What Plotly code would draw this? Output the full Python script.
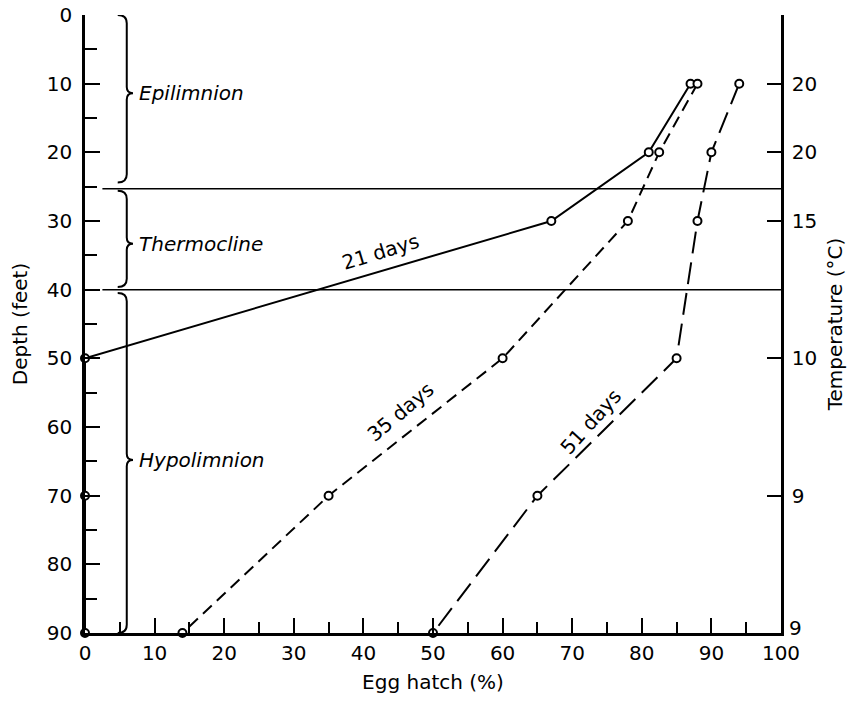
import plotly.graph_objects as go

# ---- data ----
depth_ft = [10, 20, 30, 50, 70, 90]
hatch_21_days = [87, 81, 67, 0, 0, 0]
hatch_35_days = [88, 82.5, 78, 60, 35, 14]
hatch_51_days = [94, 90, 88, 85, 65, 50]

temp_tick_depths = [0, 10, 20, 30, 50, 70, 90]
temp_tick_labels = ["", "20", "20", "15", "10", "9", "9"]

layer_names = ["Epilimnion", "Thermocline", "Hypolimnion"]
layer_tops = [0, 25.6, 40.5]
layer_bottoms = [24.4, 39.6, 90]
layer_tips = [11.4, 33.3, 64.8]

boundary_depths = [25.3, 40.0]

curve_labels = ["21 days", "35 days", "51 days"]
curve_label_x = [42.4, 45.3, 72.6]
curve_label_y = [34.5, 57.8, 59.2]
curve_label_angle = [-17, -40, -48]

FONT = "'DejaVu Sans', sans-serif"

fig = go.Figure()

series = [
    (hatch_21_days, "solid"),
    (hatch_35_days, "12px,7px"),
    (hatch_51_days, "22px,9px"),
]
for vals, dash in series:
    fig.add_trace(go.Scatter(
        x=vals, y=depth_ft, mode="lines+markers",
        line=dict(color="black", width=2, dash=dash),
        marker=dict(symbol="circle", size=8, color="white",
                    line=dict(color="black", width=2)),
        cliponaxis=False, showlegend=False,
    ))

# invisible trace on the secondary (temperature) axis
fig.add_trace(go.Scatter(x=[None], y=[None], yaxis="y2", showlegend=False))

# boundaries between layers
for d in boundary_depths:
    fig.add_shape(type="line", xref="x", yref="y", x0=2.5, x1=100, y0=d, y1=d,
                  line=dict(color="black", width=1.5))

# braces
xb, xc, xt = 6.0, 4.7, 6.9
for name, top, bot, tip in zip(layer_names, layer_tops, layer_bottoms, layer_tips):
    path = (f"M {xc},{top} Q {xb},{top} {xb},{top+1.2} "
            f"L {xb},{tip-0.9} Q {xb},{tip} {xt},{tip} "
            f"Q {xb},{tip} {xb},{tip+0.9} "
            f"L {xb},{bot-1.2} Q {xb},{bot} {xc},{bot}")
    fig.add_shape(type="path", path=path, xref="x", yref="y",
                  line=dict(color="black", width=2))
    fig.add_annotation(x=7.4, y=tip, text=f"<i>{name}</i>", showarrow=False,
                       xanchor="left", yanchor="middle",
                       font=dict(family=FONT, size=20, color="black"))

for txt, lx, ly, ang in zip(curve_labels, curve_label_x, curve_label_y, curve_label_angle):
    fig.add_annotation(x=lx, y=ly, text=txt, showarrow=False, textangle=ang,
                       font=dict(family=FONT, size=20, color="black"))

# the lowest temperature label is set a little higher so it clears the "100" below it
right_ticktext = temp_tick_labels[:-1] + [""]
fig.add_annotation(x=1, xref="paper", y=temp_tick_depths[-1], yref="y",
                   text=temp_tick_labels[-1], showarrow=False,
                   xanchor="left", yanchor="middle", xshift=6, yshift=5,
                   font=dict(family=FONT, size=20, color="black"))

axis_common = dict(showgrid=False, zeroline=False, linecolor="black", linewidth=2.5,
                   tickcolor="black", tickwidth=2, ticks="inside", automargin=False,
                   tickfont=dict(family=FONT, size=20, color="black"))

fig.update_layout(
    width=850, height=704,
    margin=dict(l=85, r=69, t=15, b=71),
    plot_bgcolor="white", paper_bgcolor="white",
    xaxis=dict(range=[0, 100], dtick=10, tick0=0, ticklen=15, showline=True,
               minor=dict(dtick=5, ticks="inside", ticklen=11, tickwidth=2, tickcolor="black"),
               title=dict(text="Egg hatch (%)", font=dict(family=FONT, size=20, color="black"),
                          standoff=12),
               **axis_common),
    yaxis=dict(range=[90, 0], dtick=10, tick0=0, ticklen=15, showline=True,
               ticklabelstandoff=6,
               minor=dict(dtick=5, ticks="inside", ticklen=12, tickwidth=2, tickcolor="black"),
               title=dict(text="Depth (feet)", font=dict(family=FONT, size=20, color="black"),
                          standoff=14),
               **axis_common),
    yaxis2=dict(range=[90, 0], overlaying="y", side="right", showline=True,
                tickmode="array", tickvals=temp_tick_depths, ticktext=right_ticktext,
                ticklen=14, ticklabelstandoff=4,
                title=dict(text="Temperature (°C)", font=dict(family=FONT, size=20, color="black"),
                           standoff=12),
                **axis_common),
)

fig.write_html("out.html", config={"displayModeBar": False},
               post_script="document.body.style.margin='0px';")
